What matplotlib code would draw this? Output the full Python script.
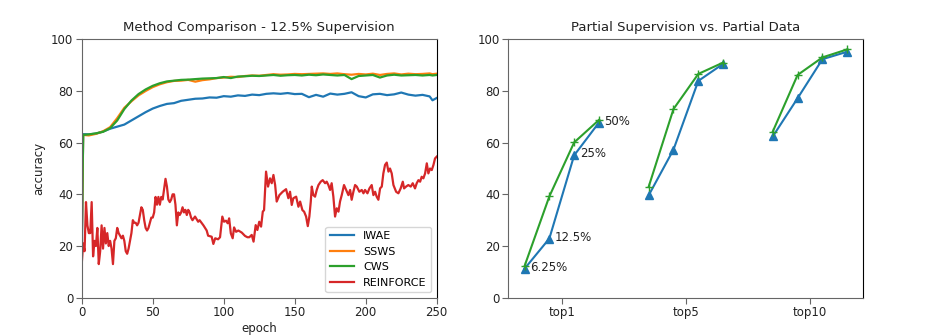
import matplotlib
matplotlib.use("Agg")
import matplotlib.pyplot as plt
import numpy as np

# ---------------- Left panel data ----------------
epochs_smooth = [0, 1, 5, 10, 15, 20, 25, 30, 35, 40, 45, 50, 55, 60, 65, 70, 75, 80, 85, 90,
                 95, 100, 105, 110, 115, 120, 125, 130, 135, 140, 145, 150, 155, 160, 165, 170,
                 175, 180, 185, 190, 195, 200, 205, 210, 215, 220, 225, 230, 235, 240, 245, 247, 250]

iwae = [13.0, 63.3, 63.2, 63.5, 64.3, 65.4, 66.2, 67.0, 68.6, 70.2, 71.8, 73.2, 74.2, 75.0, 75.3,
        76.2, 76.6, 77.0, 77.1, 77.5, 77.4, 78.0, 77.8, 78.3, 78.1, 78.6, 78.4, 78.9, 79.1, 78.9,
        79.2, 78.8, 78.9, 77.6, 78.5, 77.8, 79.0, 78.6, 78.9, 79.5, 78.0, 77.5, 78.7, 78.9, 78.4,
        78.7, 79.4, 78.6, 78.2, 78.5, 77.9, 76.4, 77.3]

ssws = [20.0, 63.0, 62.8, 63.4, 64.4, 66.0, 69.5, 73.5, 76.0, 78.3, 80.0, 81.5, 82.6, 83.4, 83.9,
        84.0, 84.3, 83.6, 84.2, 84.5, 85.0, 85.2, 85.5, 85.4, 85.8, 86.0, 85.9, 86.2, 86.5, 86.3,
        86.4, 86.6, 86.5, 86.6, 86.7, 86.8, 86.6, 86.8, 86.5, 86.3, 86.6, 86.4, 86.7, 86.2, 86.6,
        86.8, 86.4, 86.7, 86.5, 86.6, 86.8, 86.5, 86.7]

cws = [20.0, 63.0, 63.2, 63.6, 64.2, 65.6, 68.6, 73.0, 76.3, 78.8, 80.6, 82.0, 83.0, 83.7, 84.0,
       84.3, 84.4, 84.6, 84.8, 84.9, 85.0, 85.4, 85.0, 85.6, 85.7, 85.9, 85.8, 86.0, 86.2, 85.9,
       86.1, 86.2, 86.0, 86.3, 86.1, 86.4, 86.2, 86.0, 86.2, 84.6, 85.8, 86.0, 86.2, 85.2, 86.0,
       86.3, 86.0, 86.1, 86.2, 86.0, 86.2, 86.0, 86.2]

reinforce_epochs = [0, 1, 2, 3, 4, 5, 6, 7, 8, 9, 10, 11, 12, 13, 14, 15, 16, 17, 18, 19, 20, 21,
                    22, 23, 24, 25, 26, 27, 28, 29, 30, 31, 32, 33, 34, 35, 36, 37, 38, 39, 40, 41,
                    42, 43, 44, 45, 46, 47, 48, 49, 50, 51, 52, 53, 54, 55, 56, 57, 58, 59, 60, 61,
                    62, 63, 64, 65, 66, 67, 68, 69, 70, 71, 72, 73, 74, 75, 76, 77, 78,
                    79.8, 82, 83, 85.7, 88, 89, 91.5, 92.7, 94, 96, 97.4, 99, 100.2, 101.6, 102.8,
                    103.8, 105, 106.3, 107.3, 108.7, 110.3, 112.7, 115, 116.7, 118, 119.7, 121,
                    122.5, 123.7, 125, 126.3, 127.5, 128.4, 129.8, 131.2, 132.6, 133.8, 135, 136.2,
                    137.3, 139.2, 141.5, 143.9, 145.5, 146.7, 147.9, 149, 151, 152.6, 153.8, 155.4,
                    156.6, 158, 159.2, 160.3, 161.3, 162, 163.1, 164.3, 165.5, 166.7, 168.3, 169.7,
                    171.4, 172.5, 173.7, 174.9, 176, 177.2, 178.4, 179.6, 180.8, 181.9, 183.1,
                    184.7, 186.2, 187.8, 189, 190.1, 191.3, 192.5, 193.7, 195.5, 197.2, 198.4,
                    199.5, 201.2, 202.6, 204.2, 205.4, 206.6, 207.7, 208.9, 210.1, 211.3, 212.4,
                    213.6, 214.8, 216, 217.1, 218.3, 219.5, 221.4, 223, 224.6, 226.1, 227, 228.4,
                    230, 231.7, 233.1, 234.7, 235.9, 237.1, 238.3, 239.4, 240.6, 241.8, 243, 244.1,
                    245.3, 246.5, 247.7, 248.8, 250]

reinforce = [13, 21, 18, 37, 28, 25, 25, 37, 16, 22, 20, 27, 13, 18, 28, 19, 27, 21, 25, 20, 22, 19,
             13, 22, 23, 27, 25, 24, 23, 24, 22, 18, 17, 19, 22, 25, 30, 29, 29, 28, 29, 32,
             35, 34, 30, 27, 26, 27, 29, 31, 31, 33, 39, 36, 39, 36, 39, 38, 42, 46, 43, 38,
             37, 38, 40, 40, 36, 28, 33, 32, 33, 35, 33, 34, 32, 34, 33, 31, 30,
             31.4, 29.4, 30, 28, 26, 24, 23.6, 20.8, 23, 22.6, 23.4, 31.4, 29.4, 29.8, 28.8,
             30.7, 24.9, 23, 27.2, 25.5, 26, 25.2, 23.9, 23.4, 23.4, 24.3, 21.7,
             28.1, 26.2, 29.4, 27.5, 33.3, 33.9, 48.8, 43, 46.2, 44.3, 47.5, 43.6,
             37.2, 39.7, 41, 42, 38.5, 41, 35.9, 38.5, 39.1, 35.2, 37.2, 33.9,
             33.3, 31.4, 27.7, 31.4, 37.2, 43, 39.7, 39.1, 41.7, 43.6, 44.9, 45.5,
             44.3, 44.9, 43.6, 41.7, 44.3, 39.1, 31.4, 34.6, 33.3, 37.2, 39.7,
             43.6, 41.7, 39.7, 41.7, 37.9, 41, 43.6, 43, 41, 41.7, 40.4,
             41.7, 40.4, 42.3, 43.6, 39.7, 41, 39.1, 37.9, 42.3, 43, 48.1,
             51.4, 52.3, 48.8, 50, 48.1, 43.6, 41, 40.4, 42.3, 44.9, 42.3, 43,
             43.6, 43, 44.3, 42.3, 44.3, 45.5, 44.9, 46.8, 46.2, 48.1, 52, 48.1,
             50, 49.4, 51.4, 53.9, 54.6]

left_labels = ["IWAE", "SSWS", "CWS", "REINFORCE"]

# ---------------- Right panel data ----------------
groups = ["top1", "top5", "top10"]
offsets = [-0.3, -0.1, 0.1, 0.3]
fractions = ["6.25%", "12.5%", "25%", "50%"]
partial_data = [[11.2, 22.9, 55.1, 67.8],
                [39.6, 57.3, 83.9, 90.5],
                [62.4, 77.2, 92.3, 95.2]]
partial_sup = [[12.2, 39.2, 60.1, 68.8],
               [42.9, 73.0, 86.6, 91.0],
               [64.3, 86.2, 93.0, 96.1]]

# ---------------- Plot ----------------
plt.rcParams['font.family'] = ['DejaVu Sans']
plt.rcParams['font.size'] = 8
blue, orange, green, red = '#1f77b4', '#ff7f0e', '#2ca02c', '#d62728'
spine_gray = '#666666'
text_color = '#222222'

fig = plt.figure(figsize=(9.34, 3.36), dpi=100)
ax1 = fig.add_axes([0.0875, 0.114, 0.3801, 0.769])
ax2 = fig.add_axes([0.5443, 0.114, 0.3801, 0.769])

ax1.plot(epochs_smooth, iwae, color=blue, lw=1.6, label=left_labels[0])
ax1.plot(epochs_smooth, ssws, color=orange, lw=1.6, label=left_labels[1])
ax1.plot(epochs_smooth, cws, color=green, lw=1.6, label=left_labels[2])
ax1.plot(reinforce_epochs, reinforce, color=red, lw=1.6, label=left_labels[3])
ax1.set_xlim(0, 250)
ax1.set_ylim(0, 100)
ax1.set_xticks([0, 50, 100, 150, 200, 250])
ax1.set_yticks([0, 20, 40, 60, 80, 100])
ax1.set_xlabel("epoch", fontsize=8.5, labelpad=2, color=text_color)
ax1.set_ylabel("accuracy", fontsize=8.5, color=text_color)
ax1.set_title("Method Comparison - 12.5% Supervision", fontsize=9.5, pad=6, color=text_color)
leg = ax1.legend(loc='lower right', fontsize=8, frameon=True, handlelength=2.2,
                 borderaxespad=0.5)
leg.get_frame().set_edgecolor('#cccccc')

for gi, g in enumerate(groups):
    xs = [gi + o for o in offsets]
    ax2.plot(xs, partial_data[gi], color=blue, lw=1.5, marker='^', markersize=6)
    ax2.plot(xs, partial_sup[gi], color=green, lw=1.5, marker='+', markersize=6,
             markeredgewidth=1.0)
for k, f in enumerate(fractions):
    ax2.annotate(f, (offsets[k], partial_data[0][k]), xytext=(4, 1),
                 textcoords='offset points', ha='left', va='center', fontsize=8.5,
                 color=text_color)
ax2.set_xticks(range(len(groups)))
ax2.set_xticklabels(groups)
ax2.set_ylim(0, 100)
ax2.set_yticks([0, 20, 40, 60, 80, 100])
ax2.set_title("Partial Supervision vs. Partial Data", fontsize=9.5, pad=6, color=text_color)

for ax in (ax1, ax2):
    for s in ('left', 'bottom', 'top'):
        ax.spines[s].set_color(spine_gray)
    ax.spines['right'].set_color('black')
    ax.tick_params(direction='out', length=4, color=spine_gray, labelsize=8.5, pad=2,
                   labelcolor=text_color)

fig.savefig("out.png", dpi=100)
